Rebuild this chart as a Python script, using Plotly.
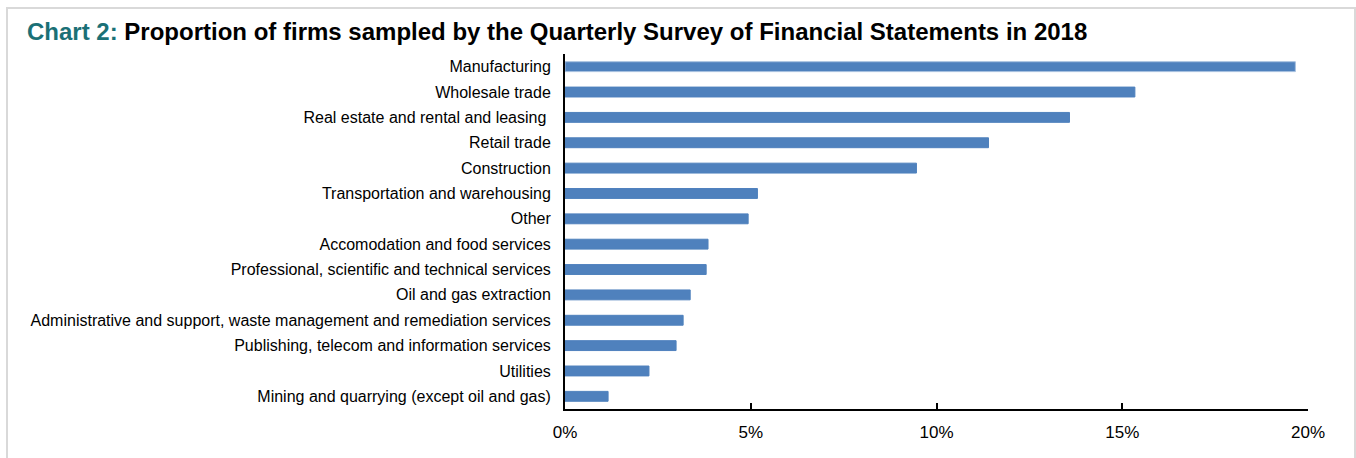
import plotly.graph_objects as go

# Industry categories (top to bottom) and their share of sampled firms, in percent
categories = [
    "Manufacturing",
    "Wholesale trade",
    "Real estate and rental and leasing\u00a0",
    "Retail trade",
    "Construction",
    "Transportation and warehousing",
    "Other",
    "Accomodation and food services",
    "Professional, scientific and technical services",
    "Oil and gas extraction",
    "Administrative and support, waste management and remediation services",
    "Publishing, telecom and information services",
    "Utilities",
    "Mining and quarrying (except oil and gas)",
]
shares = [19.66, 15.34, 13.58, 11.40, 9.46, 5.18, 4.93, 3.85, 3.80, 3.37, 3.18, 2.99, 2.26, 1.16]
x_ticks = [0, 5, 10, 15, 20]
x_tick_labels = ["0%", "5%", "10%", "15%", "20%"]

W, H = 1356, 458
M_L, M_R, M_T, M_B = 565, 48, 54, 49
plot_w = W - M_L - M_R
plot_h = H - M_T - M_B

BAR = "#4F81BD"
line_colors = ["#A7C0DF"] + [BAR] * (len(categories) - 1)

fig = go.Figure(
    go.Bar(
        x=shares,
        y=categories,
        orientation="h",
        marker=dict(color=BAR, line=dict(color=line_colors, width=1)),
        width=0.39,
        hoverinfo="x+y",
    )
)

# outer frame around the panel, expressed in paper coordinates
def px_x(p):
    return (p - M_L) / plot_w

def px_y(p):
    return 1 - (p - M_T) / plot_h

fig.add_shape(
    type="rect", xref="paper", yref="paper",
    x0=px_x(7), x1=px_x(1355), y0=px_y(470), y1=px_y(8),
    line=dict(color="#D9D9D9", width=2), fillcolor="rgba(0,0,0,0)", layer="below",
)

fig.update_layout(
    width=W, height=H,
    margin=dict(l=M_L, r=M_R, t=M_T, b=M_B, pad=0),
    paper_bgcolor="white", plot_bgcolor="white",
    font=dict(family="Liberation Sans, Arial, sans-serif", size=16, color="#000000"),
    showlegend=False,
    title=dict(
        text="<span style='color:#1A7076'>Chart 2:</span> Proportion of firms sampled by the Quarterly Survey of Financial Statements in 2018",
        x=27 / W, xanchor="left", xref="container",
        y=1 - 32 / H, yanchor="middle", yref="container",
        font=dict(family="Liberation Sans, Arial, sans-serif", size=24, color="#000000", weight="bold"),
    ),
    xaxis=dict(
        range=[0, 20],
        tickvals=x_ticks, ticktext=x_tick_labels,
        showgrid=False, zeroline=False,
        showline=True, linecolor="#000000", linewidth=2,
        ticks="inside", ticklen=6, tickwidth=2, tickcolor="#000000",
        tickfont=dict(size=17),
        ticklabelstandoff=7,
        fixedrange=True,
    ),
    yaxis=dict(
        autorange="reversed",
        showgrid=False, zeroline=False,
        showline=True, linecolor="#000000", linewidth=2,
        ticks="", ticklabelstandoff=9,
        tickfont=dict(size=16),
        fixedrange=True,
    ),
    bargap=0.6,
)

fig.write_html("out.html")
